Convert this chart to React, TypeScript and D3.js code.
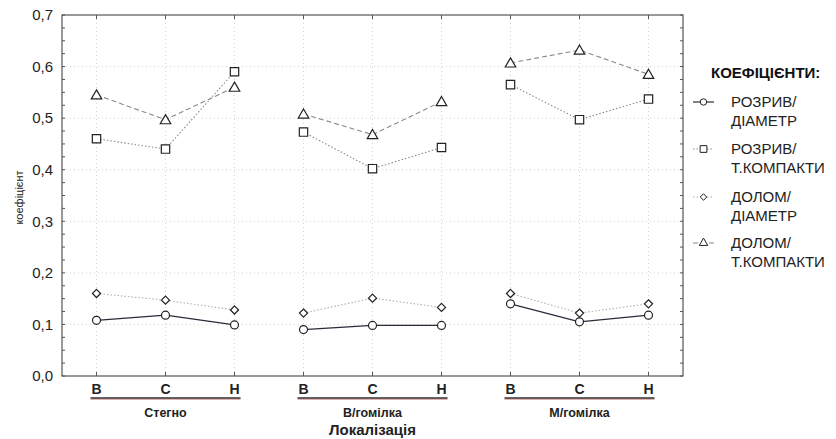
import React, { useEffect, useRef } from 'react';
import * as d3 from 'd3';

// categories
const groups = ['Стегно', 'В/гомілка', 'М/гомілка'];
const positions = ['В', 'С', 'Н'];

// series values, 3 per group (В, С, Н)
const rozryvDiam = [0.108, 0.118, 0.099, 0.090, 0.098, 0.098, 0.140, 0.105, 0.118];
const rozryvKomp = [0.460, 0.440, 0.590, 0.473, 0.402, 0.443, 0.565, 0.497, 0.537];
const dolomDiam = [0.160, 0.147, 0.128, 0.122, 0.151, 0.133, 0.160, 0.122, 0.140];
const dolomKomp = [0.545, 0.497, 0.560, 0.508, 0.468, 0.532, 0.607, 0.632, 0.585];

const yTicks = [0, 0.1, 0.2, 0.3, 0.4, 0.5, 0.6, 0.7];

const series = [
  { name: ['РОЗРИВ/', 'ДІАМЕТР'], values: rozryvDiam, symbol: 'circle', stroke: '#2a2a3a', dash: null, width: 1.2 },
  { name: ['РОЗРИВ/', 'Т.КОМПАКТИ'], values: rozryvKomp, symbol: 'square', stroke: '#8a8a8a', dash: '1.5,2', width: 1.1 },
  { name: ['ДОЛОМ/', 'ДІАМЕТР'], values: dolomDiam, symbol: 'diamond', stroke: '#b0b0b0', dash: '1.5,2', width: 1.1 },
  { name: ['ДОЛОМ/', 'Т.КОМПАКТИ'], values: dolomKomp, symbol: 'triangle', stroke: '#8a8a8a', dash: '5,3', width: 1.1 },
];

const FONT = '"Liberation Sans", Arial, sans-serif';

const App = () => {
  const svgRef = useRef<SVGSVGElement>(null);

  useEffect(() => {
    const svg = d3.select(svgRef.current);
    svg.selectAll('*').remove();

    const left = 62, right = 683, top = 15, bottom = 376;

    const keys = groups.flatMap(g => positions.map(p => `${g}|${p}`));
    const x = d3.scalePoint<string>().domain(keys).range([left, right]).padding(0.5);
    const y = d3.scaleLinear().domain([0, 0.7]).range([bottom, top]);

    svg.append('rect').attr('width', 836).attr('height', 439).attr('fill', '#fff');

    // faint grid
    const grid = svg.append('g').attr('stroke', '#d4d4d4').attr('stroke-dasharray', '1,3').attr('stroke-width', 1);
    yTicks.slice(1, -1).forEach(t => {
      grid.append('line').attr('x1', left).attr('x2', right).attr('y1', y(t)).attr('y2', y(t));
    });
    keys.forEach(k => {
      grid.append('line').attr('x1', x(k)!).attr('x2', x(k)!).attr('y1', top).attr('y2', bottom);
    });

    // frame
    svg.append('rect')
      .attr('x', left).attr('y', top)
      .attr('width', right - left).attr('height', bottom - top)
      .attr('fill', 'none').attr('stroke', '#333').attr('stroke-width', 1);

    // minor ticks on left and right
    const minor = d3.range(0, 0.7001, 0.025);
    const tk = svg.append('g').attr('stroke', '#555').attr('stroke-width', 1);
    minor.forEach(t => {
      tk.append('line').attr('x1', left).attr('x2', left + 3).attr('y1', y(t)).attr('y2', y(t));
      tk.append('line').attr('x1', right).attr('x2', right - 3).attr('y1', y(t)).attr('y2', y(t));
    });
    keys.forEach(k => {
      tk.append('line').attr('x1', x(k)!).attr('x2', x(k)!).attr('y1', bottom).attr('y2', bottom - 4);
      tk.append('line').attr('x1', x(k)!).attr('x2', x(k)!).attr('y1', top).attr('y2', top + 4);
    });

    // y tick labels
    svg.append('g').selectAll('text').data(yTicks).join('text')
      .attr('x', 53).attr('y', d => y(d)).attr('dy', '0.35em')
      .attr('text-anchor', 'end')
      .style('font-family', FONT).style('font-size', '15px').attr('fill', '#222')
      .text(d => d.toFixed(1).replace('.', ','));

    svg.append('text')
      .attr('transform', `translate(19,${(top + bottom) / 2 + 2}) rotate(-90)`)
      .attr('text-anchor', 'middle').attr('dy', '0.35em')
      .style('font-family', FONT).style('font-size', '11px').attr('fill', '#222')
      .text('коефіцієнт');

    const symbolType = (s: string) =>
      s === 'circle' ? d3.symbolCircle : s === 'square' ? d3.symbolSquare : s === 'diamond' ? d3.symbolDiamond2 : d3.symbolTriangle;
    const symbolSize = (s: string) =>
      s === 'circle' ? 50 : s === 'square' ? 70 : s === 'diamond' ? 42 : 48;

    const line = d3.line<[string, number]>().x(d => x(d[0])!).y(d => y(d[1]));

    // series, drawn back to front
    [...series].reverse().forEach(s => {
      const g = svg.append('g');
      groups.forEach((grp, gi) => {
        const pts: [string, number][] = positions.map((p, pi) => [`${grp}|${p}`, s.values[gi * 3 + pi]]);
        g.append('path').datum(pts)
          .attr('d', line).attr('fill', 'none')
          .attr('stroke', s.stroke).attr('stroke-width', s.width)
          .attr('stroke-dasharray', s.dash);
      });
      keys.forEach((k, i) => {
        g.append('path')
          .attr('d', d3.symbol().type(symbolType(s.symbol)).size(symbolSize(s.symbol))())
          .attr('transform', `translate(${x(k)},${y(s.values[i]) + (s.symbol === 'triangle' ? 1 : 0)})`)
          .attr('fill', '#fff').attr('stroke', '#222').attr('stroke-width', 1.2);
      });
    });

    // x labels
    const xl = svg.append('g');
    groups.forEach(grp => {
      positions.forEach(p => {
        xl.append('text')
          .attr('x', x(`${grp}|${p}`)!).attr('y', 394)
          .attr('text-anchor', 'middle')
          .style('font-family', FONT).style('font-size', '14px').style('font-weight', 'bold').attr('fill', '#222')
          .text(p);
      });
      const x0 = x(`${grp}|${positions[0]}`)! - 6;
      const x1 = x(`${grp}|${positions[2]}`)! + 6;
      xl.append('line').attr('x1', x0).attr('x2', x1).attr('y1', 399.2).attr('y2', 399.2)
        .attr('stroke', '#c85a5a').attr('stroke-width', 0.7);
      xl.append('line').attr('x1', x0).attr('x2', x1).attr('y1', 398).attr('y2', 398)
        .attr('stroke', '#2e2e2e').attr('stroke-width', 1.4);
      xl.append('text')
        .attr('x', x(`${grp}|${positions[1]}`)!).attr('y', 417)
        .attr('text-anchor', 'middle')
        .style('font-family', FONT).style('font-size', '12.5px').style('font-weight', 'bold').attr('fill', '#222')
        .text(grp);
    });

    svg.append('text')
      .attr('x', x(`${groups[1]}|${positions[1]}`)!).attr('y', 435)
      .attr('text-anchor', 'middle')
      .style('font-family', FONT).style('font-size', '15px').style('font-weight', 'bold').attr('fill', '#222')
      .text('Локалізація');

    // legend
    const lg = svg.append('g');
    lg.append('text')
      .attr('x', 711).attr('y', 78)
      .style('font-family', FONT).style('font-size', '15px').style('font-weight', 'bold').attr('fill', '#111')
      .text('КОЕФІЦІЄНТИ:');
    const rowY = [102, 149, 197, 243];
    series.forEach((s, i) => {
      const ry = rowY[i];
      lg.append('line').attr('x1', 693).attr('x2', 714).attr('y1', ry).attr('y2', ry)
        .attr('stroke', s.stroke).attr('stroke-width', s.width).attr('stroke-dasharray', s.dash);
      lg.append('path')
        .attr('d', d3.symbol().type(symbolType(s.symbol)).size(symbolSize(s.symbol) * 0.65)())
        .attr('transform', `translate(703.5,${ry})`)
        .attr('fill', '#fff').attr('stroke', '#222').attr('stroke-width', 1);
      s.name.forEach((t, j) => {
        lg.append('text')
          .attr('x', 731).attr('y', ry + j * 19).attr('dy', '0.35em')
          .style('font-family', FONT).style('font-size', '15px').attr('fill', '#222')
          .text(t);
      });
    });
  }, []);

  return <svg ref={svgRef} width={836} height={439} style={{ position: 'absolute', left: 0, top: 0 }} />;
};

export default App;
